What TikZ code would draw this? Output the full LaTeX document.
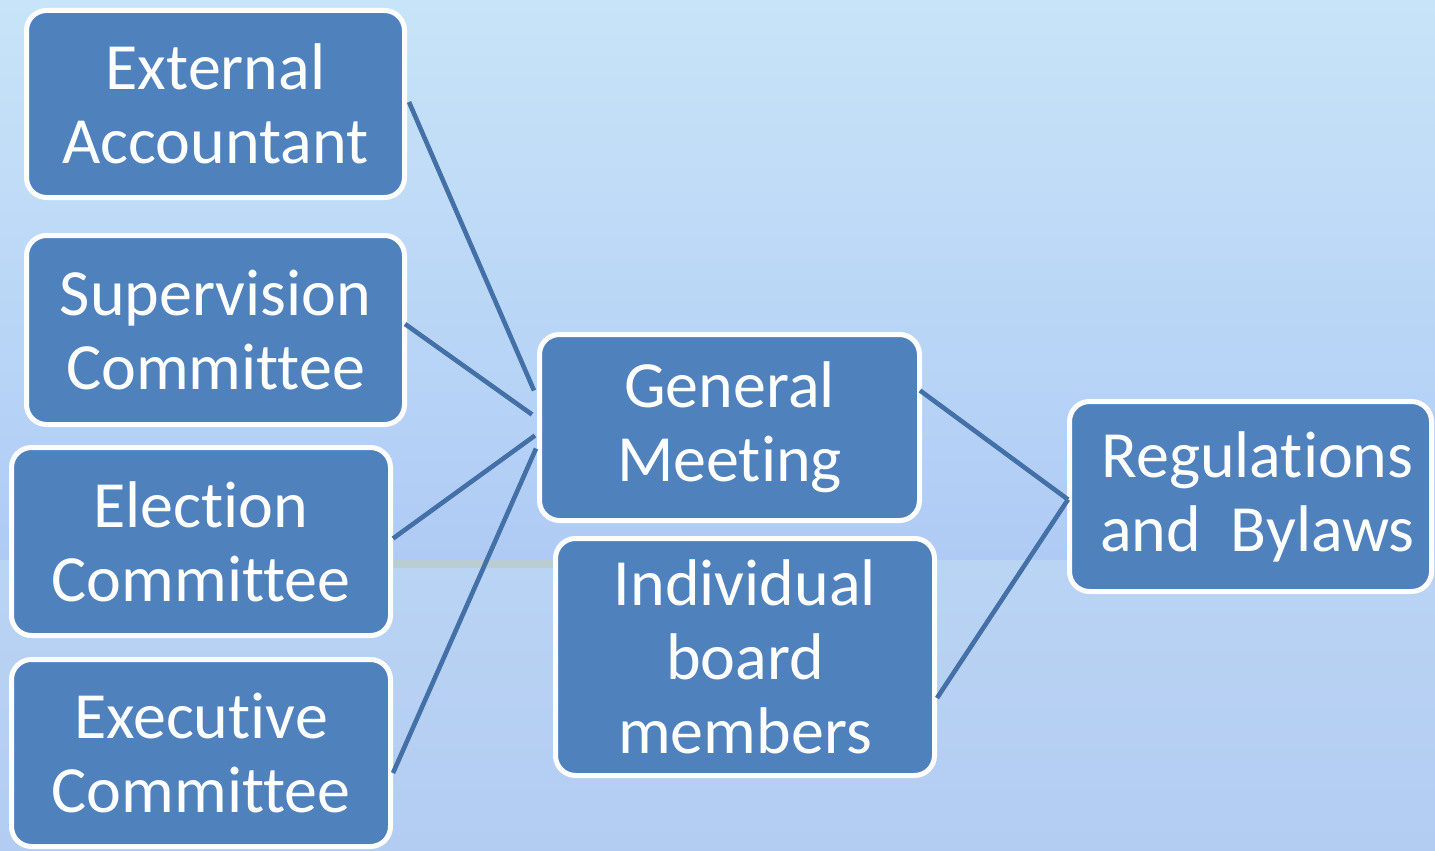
\documentclass[tikz,border=0pt]{standalone}
\usepackage{fontspec}
\setmainfont{Carlito}[Ligatures={NoCommon}]
\usetikzlibrary{calc}
\definecolor{boxfill}{HTML}{4F81BD}
\definecolor{linkcol}{HTML}{4470A8}
\definecolor{bgtop}{HTML}{C8E4F8}
\definecolor{bgmid}{HTML}{AFCBF5}
\definecolor{bgband}{HTML}{B9CDD3}
\definecolor{bglow}{HTML}{BAD4F4}
\definecolor{bgbot}{HTML}{B3CCF2}
\tikzset{
  orgbox/.style={draw=white, line width=5pt, fill=boxfill, rounded corners=20pt,
    text=white, align=center, inner sep=0pt,
    font=\fontsize{66}{74}\selectfont},
  link/.style={draw=linkcol, line width=4.6pt}
}
\begin{document}
\begin{tikzpicture}[x=1pt,y=-1pt]
\useasboundingbox (0,0) rectangle (1435,851);
% background
\shade[top color=bgtop, bottom color=bgmid] (0,0) rectangle (1435,560);
\shade[top color=bglow, bottom color=bgbot] (0,560) rectangle (1435,851);
\fill[bgband] (393,560) rectangle (553,568);

% boxes
\node[orgbox, minimum width=378pt, minimum height=187pt] (EA) at (215.5,104) {External\\Accountant};
\node[orgbox, minimum width=378pt, minimum height=189pt] (SC) at (215.5,330) {Supervision\\Committee};
\node[orgbox, minimum width=379pt, minimum height=188pt] (EC) at (201,541.5) {Election\\Committee};
\node[orgbox, minimum width=379pt, minimum height=187pt] (XC) at (201,753) {Executive\\Committee};
\node[orgbox, minimum width=380pt, minimum height=186pt] (GM) at (729.5,427.5) {General\\Meeting};
\node[orgbox, minimum width=379pt, minimum height=237pt] (IB) at (745,657) {Individual\\board\\members};
\node[orgbox, minimum width=362pt, minimum height=190pt] (RB) at (1250.5,496.5) {\hspace*{14pt}Regulations\\\hspace*{14pt}and~~Bylaws};

% connectors
\draw[link] ($(EA.east)+(2,-2)$) -- ($(GM.west)+(-3,-37)$);
\draw[link] ($(SC.east)+(-2,-6)$) -- ($(GM.west)+(-5,-13)$);
\draw[link] ($(EC.east)+(0,-3)$) -- ($(GM.west)+(-2,8)$);
\draw[link] ($(XC.east)+(0,20)$) -- ($(GM.west)+(-1,21)$);
\draw[link] ($(GM.east)+(-2,-37)$) -- ($(RB.west)+(1,3)$);
\draw[link] ($(IB.east)+(0,41)$) -- ($(RB.west)+(1,3)$);
\end{tikzpicture}
\end{document}
